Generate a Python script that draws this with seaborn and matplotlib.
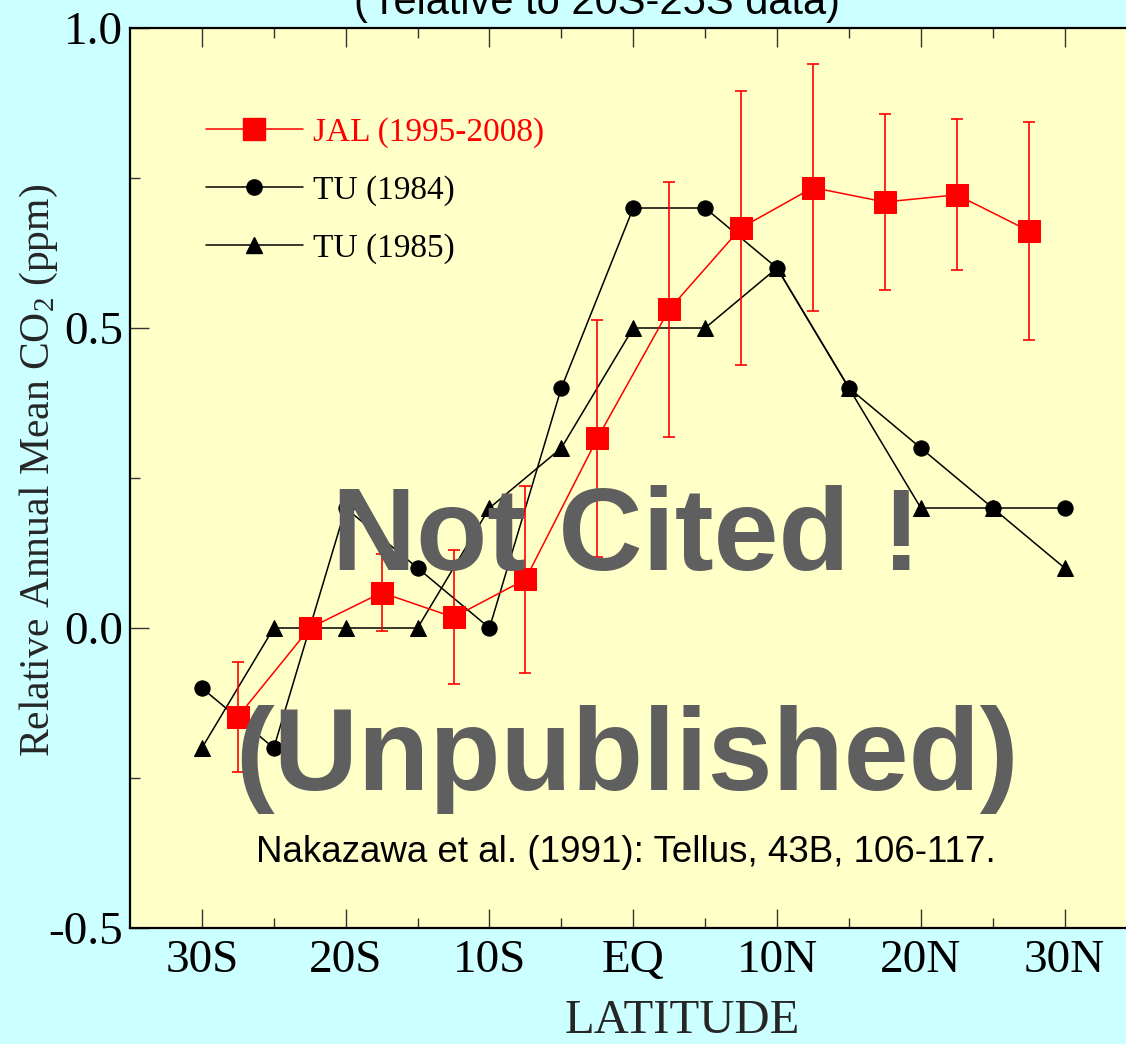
import numpy as np
import pandas as pd
import matplotlib
matplotlib.use("Agg")
import matplotlib.pyplot as plt
from matplotlib.lines import Line2D
from matplotlib.ticker import MultipleLocator, FixedLocator
import seaborn as sns

# ---- data -------------------------------------------------------------
lat_jal = [-27.5, -22.5, -17.5, -12.5, -7.5, -2.5, 2.5, 7.5, 12.5, 17.5, 22.5, 27.5]
co2_jal = [-0.148, 0.0, 0.059, 0.018, 0.081, 0.316, 0.531, 0.667, 0.734, 0.710, 0.722, 0.662]
err_jal = [0.092, 0.0, 0.064, 0.112, 0.156, 0.198, 0.212, 0.228, 0.206, 0.147, 0.126, 0.182]

lat_tu = [-30, -25, -20, -15, -10, -5, 0, 5, 10, 15, 20, 25, 30]
co2_tu84 = [-0.1, -0.2, 0.2, 0.1, 0.0, 0.4, 0.7, 0.7, 0.6, 0.4, 0.3, 0.2, 0.2]
co2_tu85 = [-0.2, 0.0, 0.0, 0.0, 0.2, 0.3, 0.5, 0.5, 0.6, 0.4, 0.2, 0.2, 0.1]

lat_ticks = [-30, -20, -10, 0, 10, 20, 30]
lat_labels = ["30S", "20S", "10S", "EQ", "10N", "20N", "30N"]
co2_ticks = [-0.5, 0.0, 0.5, 1.0]
co2_labels = ["-0.5", "0.0", "0.5", "1.0"]

series_names = ["JAL (1995-2008)", "TU (1984)", "TU (1985)"]

# ---- style ------------------------------------------------------------
sns.set_style("ticks")
plt.rcParams["font.family"] = ["Liberation Serif", "DejaVu Serif"]
plt.rcParams["mathtext.fontset"] = "custom"
plt.rcParams["mathtext.rm"] = "Liberation Serif"
plt.rcParams["mathtext.it"] = "Liberation Serif:italic"

FIG_BG = "#CCFFFF"
AX_BG = "#FFFFC8"
RED = "#FF0000"

fig = plt.figure(figsize=(11.26, 10.44), dpi=100, facecolor=FIG_BG)
ax = fig.add_axes([130 / 1126, 116 / 1044, 1006.5 / 1126, 900 / 1044])
ax.set_facecolor(AX_BG)

df_jal = pd.DataFrame({"lat": lat_jal, "co2": co2_jal, "err": err_jal})
df_tu84 = pd.DataFrame({"lat": lat_tu, "co2": co2_tu84})
df_tu85 = pd.DataFrame({"lat": lat_tu, "co2": co2_tu85})

# TU ship / aircraft profiles
sns.lineplot(data=df_tu84, x="lat", y="co2", ax=ax, color="black", lw=1.1,
             marker="o", markersize=11, markeredgecolor="black",
             markerfacecolor="black", zorder=3, legend=False)
sns.lineplot(data=df_tu85, x="lat", y="co2", ax=ax, color="black", lw=1.1,
             marker="^", markersize=12, markeredgecolor="black",
             markerfacecolor="black", zorder=3, legend=False)

# JAL means with error bars
ax.errorbar(df_jal["lat"], df_jal["co2"], yerr=df_jal["err"], fmt="none",
            ecolor=RED, elinewidth=1.2, capsize=4.5, capthick=1.2, zorder=4)
sns.lineplot(data=df_jal, x="lat", y="co2", ax=ax, color=RED, lw=1.1,
             marker="s", markersize=16, markeredgecolor=RED,
             markerfacecolor=RED, zorder=5, legend=False)

# ---- axes -------------------------------------------------------------
ax.set_xlim(-35, 35)
ax.set_ylim(-0.5, 1.0)
ax.xaxis.set_major_locator(FixedLocator(lat_ticks))
ax.set_xticklabels(lat_labels)
ax.xaxis.set_minor_locator(FixedLocator([-25, -15, -5, 5, 15, 25]))
ax.yaxis.set_major_locator(FixedLocator(co2_ticks))
ax.set_yticklabels(co2_labels)
ax.yaxis.set_minor_locator(MultipleLocator(0.25))

ax.tick_params(axis="both", which="major", direction="in", length=14,
               width=1.0, color="#333333", labelsize=34, labelcolor="black")
ax.tick_params(axis="both", which="minor", direction="in", length=7,
               width=1.0, color="#333333")
ax.tick_params(axis="x", which="both", top=True, bottom=True, pad=8)
ax.tick_params(axis="y", which="both", left=True, right=False, pad=5)

for side in ["left", "bottom", "top", "right"]:
    ax.spines[side].set_color("black")
    ax.spines[side].set_linewidth(1.6)

ax.set_xlabel("LATITUDE", fontsize=35)
ax.xaxis.set_label_coords((682 - 130) / 1006.5, -0.079)
ax.set_ylabel(r"Relative Annual Mean CO$_2$ (ppm)", fontsize=30)
ax.yaxis.set_label_coords((60 - 130) / 1006.5, (928 - 470) / 900)

# ---- legend -----------------------------------------------------------
handles = [
    Line2D([], [], color=RED, lw=1.1, marker="s", markersize=16),
    Line2D([], [], color="black", lw=1.1, marker="o", markersize=11),
    Line2D([], [], color="black", lw=1.1, marker="^", markersize=12),
]
leg = ax.legend(handles, series_names, loc="upper left",
                bbox_to_anchor=(0.0755, 0.901), frameon=False,
                fontsize=24, handlelength=2.9, handletextpad=0.3,
                labelspacing=0.82, borderpad=0, borderaxespad=0)
for txt, c in zip(leg.get_texts(), [RED, "black", "black"]):
    txt.set_color(c)

# ---- annotations ------------------------------------------------------
sans = ["Liberation Sans", "DejaVu Sans"]
ax.text(-0.5, 0.097, "Not Cited !", fontsize=84, fontweight="bold",
        family=sans, color="#5F5F5F", ha="center", va="baseline", zorder=10)
ax.text(-0.4, -0.27, "(Unpublished)", fontsize=84, fontweight="bold",
        family=sans, color="#5F5F5F", ha="center", va="baseline", zorder=10)
ax.text(-0.5, -0.39, "Nakazawa et al. (1991): Tellus, 43B, 106-117.",
        fontsize=26.5, family=sans, color="black", ha="center", va="baseline",
        zorder=10)

fig.text(597 / 1126, 1 - 14 / 1044, "( relative to 20S-25S data)",
         fontsize=30, family=sans, color="black", ha="center", va="baseline")

fig.savefig("out.png", dpi=100, facecolor=FIG_BG)
